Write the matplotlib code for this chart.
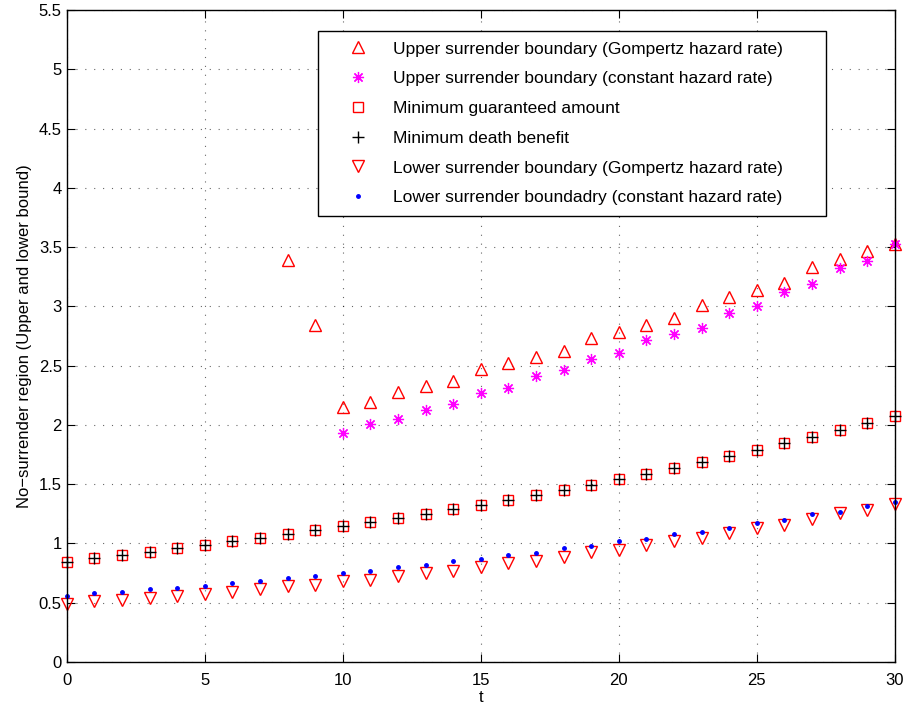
import matplotlib.pyplot as plt
import numpy as np

plt.rcParams['font.family'] = ['Liberation Sans', 'DejaVu Sans']

t_all = np.arange(0, 31)
t_up_gomp = np.arange(8, 31)
t_up_const = np.arange(10, 31)

upper_gompertz = [3.39, 2.84, 2.15, 2.19, 2.28, 2.33, 2.37, 2.47, 2.52, 2.57, 2.62,
                  2.73, 2.78, 2.84, 2.90, 3.01, 3.08, 3.14, 3.20, 3.33, 3.40, 3.47, 3.53]
upper_constant = [1.93, 2.01, 2.05, 2.13, 2.18, 2.27, 2.31, 2.41, 2.46, 2.56, 2.61,
                  2.72, 2.77, 2.82, 2.94, 3.00, 3.12, 3.19, 3.32, 3.38, 3.53]
min_guaranteed = [0.846, 0.88, 0.90, 0.93, 0.96, 0.99, 1.02, 1.048, 1.08, 1.113, 1.144,
                  1.18, 1.214, 1.25, 1.29, 1.326, 1.366, 1.408, 1.453, 1.495, 1.543,
                  1.588, 1.638, 1.686, 1.734, 1.79, 1.844, 1.897, 1.953, 2.013, 2.077]
min_death = list(min_guaranteed)
lower_gompertz = [0.49, 0.514, 0.523, 0.54, 0.554, 0.576, 0.59, 0.613, 0.638, 0.652, 0.68,
                  0.694, 0.725, 0.75, 0.765, 0.80, 0.835, 0.854, 0.888, 0.927, 0.947,
                  0.984, 1.023, 1.045, 1.088, 1.13, 1.158, 1.206, 1.254, 1.28, 1.335]
lower_constant = [0.556, 0.579, 0.59, 0.615, 0.627, 0.641, 0.666, 0.68, 0.708, 0.722, 0.753,
                  0.767, 0.80, 0.815, 0.849, 0.866, 0.902, 0.922, 0.959, 0.978, 1.018,
                  1.04, 1.082, 1.10, 1.127, 1.175, 1.195, 1.245, 1.267, 1.32, 1.347]

fig = plt.figure(figsize=(9.05, 7.11), dpi=100)
ax = fig.add_axes([0.0737, 0.0689, 0.915, 0.917])

ax.plot(t_up_gomp, upper_gompertz, linestyle='none', marker='^', ms=8.5, clip_on=False,
        mfc='none', mec='red', mew=1.0, label='Upper surrender boundary (Gompertz hazard rate)')
ax.plot(t_up_const, upper_constant, linestyle='none', marker=(8, 2, 0), ms=8, clip_on=False,
        mec='magenta', color='magenta', mew=0.9, label='Upper surrender boundary (constant hazard rate)')
ax.plot(t_all, min_guaranteed, linestyle='none', marker='s', ms=7, clip_on=False,
        mfc='none', mec='red', mew=1.0, label='Minimum guaranteed amount')
ax.plot(t_all, min_death, linestyle='none', marker='+', ms=8.5, clip_on=False,
        color='black', mew=1.0, label='Minimum death benefit')
ax.plot(t_all, lower_gompertz, linestyle='none', marker='v', ms=8.5, clip_on=False,
        mfc='none', mec='red', mew=1.0, label='Lower surrender boundary (Gompertz hazard rate)')
ax.plot(t_all, lower_constant, linestyle='none', marker='.', ms=5, clip_on=False,
        color='blue', label='Lower surrender boundadry (constant hazard rate)')

ax.set_xlim(0, 30)
ax.set_ylim(0, 5.5)
ax.set_xticks(np.arange(0, 31, 5))
ax.set_yticks(np.arange(0, 5.51, 0.5))
ax.set_yticklabels(['0', '0.5', '1', '1.5', '2', '2.5', '3', '3.5', '4', '4.5', '5', '5.5'])
ax.grid(True, linestyle=(0, (1, 7)), color='black', linewidth=0.8, alpha=0.6)
ax.tick_params(direction='in', top=True, right=True, labelsize=12, length=6)
ax.tick_params(axis='x', pad=8)
for sp in ax.spines.values():
    sp.set_linewidth(1.0)

ax.set_xlabel('t', fontsize=12, labelpad=1)
ax.set_ylabel('No\u2212surrender region (Upper and lower bound)', fontsize=12, labelpad=5)

# legend box spans a fixed width, entries stay left-aligned
x0, x1 = 318 / 905, 826 / 905
y_top, y_bot = 1 - 31 / 711, 1 - 214 / 711
leg = ax.legend(loc='upper left', bbox_to_anchor=(x0, y_bot, x1 - x0, y_top - y_bot),
                bbox_transform=fig.transFigure, mode='expand', fontsize=12.5,
                fancybox=False, framealpha=1, edgecolor='black', borderaxespad=0,
                handlelength=3.4, handletextpad=0.3, labelspacing=0.84, borderpad=0.6)
leg.get_frame().set_linewidth(1.0)

fig.savefig('out.png', dpi=100)
